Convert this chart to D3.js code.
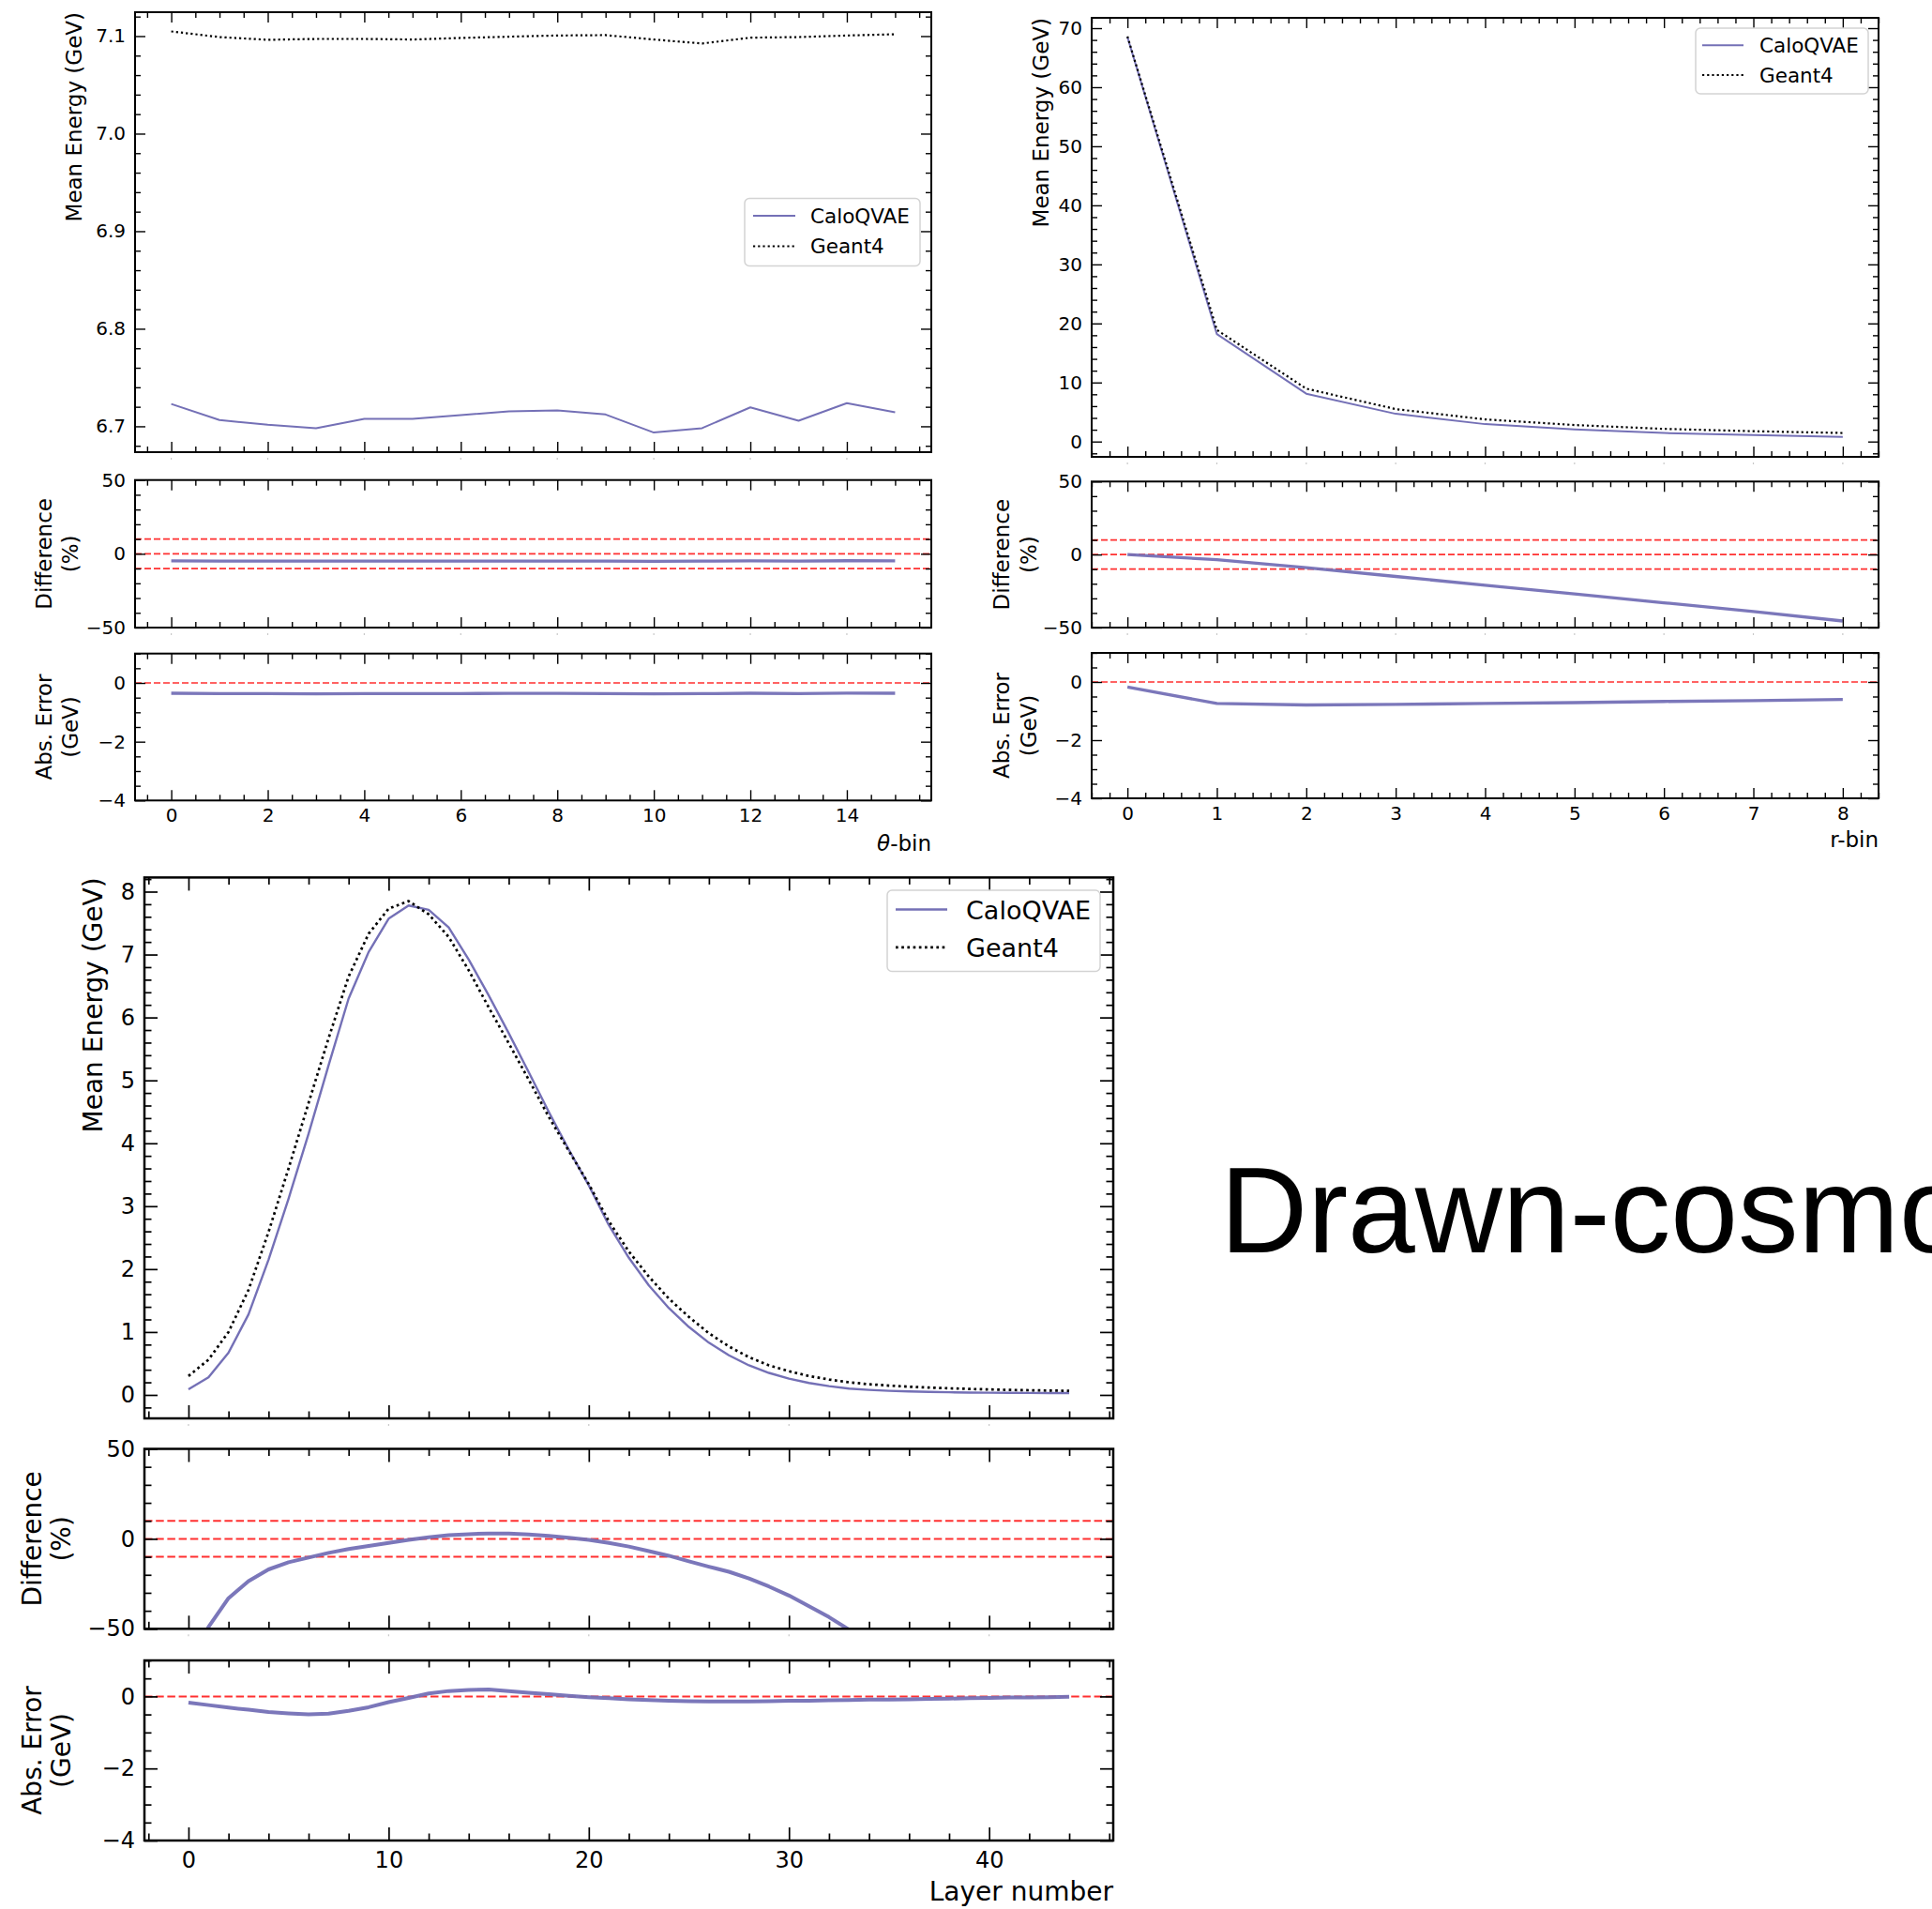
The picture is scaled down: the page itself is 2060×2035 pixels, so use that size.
<!DOCTYPE html>
<html><head><meta charset="utf-8">
<script src="https://cdn.jsdelivr.net/npm/d3@7"></script>
<style>body{margin:0;background:#fff}svg{display:block}</style>
</head><body>
<svg id="c" width="2060" height="2035"></svg>
<script>
// ---------------- DATA ----------------
const seriesNames = ["CaloQVAE", "Geant4"];

const thetaBins  = [0,1,2,3,4,5,6,7,8,9,10,11,12,13,14,15];
const thetaCalo  = [6.7229,6.7064,6.7016,6.6981,6.7076,6.7076,6.7114,6.7153,6.7162,6.7121,6.6936,6.6981,6.7194,6.7057,6.7238,6.7143];
const thetaGeant = [7.1048,7.0990,7.0962,7.0971,7.0971,7.0965,7.0981,7.0994,7.1006,7.1010,7.0965,7.0924,7.0984,7.0990,7.1006,7.1019];
const thetaDiff  = [-4.8,-4.9,-4.9,-5.0,-4.9,-4.9,-4.9,-4.9,-4.9,-4.9,-5.1,-5.0,-4.8,-4.9,-4.7,-4.8];
const thetaAbs   = [-0.35,-0.36,-0.36,-0.37,-0.36,-0.36,-0.36,-0.355,-0.355,-0.36,-0.37,-0.365,-0.35,-0.36,-0.345,-0.35];

const rBins  = [0,1,2,3,4,5,6,7,8];
const rCalo  = [68.5,18.2,8.1,4.7,2.95,2.05,1.45,1.1,0.8];
const rGeant = [68.6,18.9,8.95,5.5,3.75,2.8,2.15,1.75,1.45];
const rDiff  = [0,-3.5,-9,-15,-21,-27,-33,-39,-45.5];
const rAbs   = [-0.17,-0.74,-0.79,-0.77,-0.74,-0.71,-0.67,-0.64,-0.6];

const layers = [0,1,2,3,4,5,6,7,8,9,10,11,12,13,14,15,16,17,18,19,20,21,22,23,24,25,26,27,28,29,30,31,32,33,34,35,36,37,38,39,40,41,42,43,44];
const layerCalo  = [0.09,0.28,0.67,1.28,2.15,3.12,4.15,5.24,6.3,7.04,7.57,7.78,7.71,7.43,6.92,6.35,5.75,5.13,4.5,3.9,3.33,2.7,2.18,1.74,1.38,1.08,0.83,0.63,0.47,0.35,0.26,0.19,0.14,0.1,0.08,0.065,0.055,0.048,0.042,0.038,0.035,0.033,0.031,0.03,0.03];
const layerGeant = [0.3,0.56,1.0,1.67,2.59,3.6,4.64,5.67,6.65,7.33,7.73,7.85,7.64,7.28,6.75,6.16,5.59,5.01,4.42,3.88,3.35,2.76,2.28,1.88,1.53,1.24,0.98,0.77,0.6,0.47,0.377,0.3,0.245,0.2,0.17,0.148,0.13,0.117,0.105,0.095,0.087,0.08,0.074,0.069,0.065];
const layerDiff  = [-70,-49,-33,-23.5,-17,-13,-10.4,-7.8,-5.7,-4,-2.3,-0.6,0.9,2.0,2.6,3.0,2.9,2.4,1.7,0.6,-0.6,-2.3,-4.3,-6.8,-9.4,-12.5,-15.5,-18.3,-22,-26.5,-31.5,-37.5,-43.5,-50.5,-58,-62,-64,-65,-64,-63,-62,-61,-60,-58,-56];
const layerAbs   = [-0.17,-0.24,-0.31,-0.37,-0.43,-0.47,-0.5,-0.48,-0.4,-0.3,-0.16,-0.04,0.08,0.15,0.18,0.19,0.15,0.1,0.06,0.02,-0.02,-0.05,-0.08,-0.1,-0.12,-0.13,-0.14,-0.14,-0.14,-0.13,-0.12,-0.12,-0.11,-0.1,-0.09,-0.09,-0.08,-0.07,-0.06,-0.05,-0.04,-0.03,-0.03,-0.02,-0.01];

// tick labels
const thetaXTicks = [0,2,4,6,8,10,12,14];
const thetaYTicks = [6.7,6.8,6.9,7.0,7.1];
const rXTicks = [0,1,2,3,4,5,6,7,8];
const rYTicks = [0,10,20,30,40,50,60,70];
const layerXTicks = [0,10,20,30,40];
const layerYTicks = [0,1,2,3,4,5,6,7,8];
const diffYTicks = [-50,0,50];
const absYTicks = [-4,-2,0];
const diffRefLines = [10,0,-10];
const absRefLines = [0];

// ---------------- STYLE / LAYOUT ----------------
const FONT = "DejaVu Sans, Verdana, sans-serif";
const CALO_COLOR = "#7470b6";
const styleSmall = {tick:20, label:23, legend:21.5, maj:11, min:6, spine:2, tickW:1.4, padX:9, padY:10,
  lineW:2, errW:3.3, redW:1.7, redDash:"7,3", dotW:2.2, dotDash:"2.2,3"};
const styleBig = {tick:24, label:28, legend:27, maj:14, min:7.5, spine:2.5, tickW:1.7, padX:12, padY:10,
  lineW:2.4, errW:4, redW:2, redDash:"8.5,3.7", dotW:2.7, dotDash:"2.7,3.5"};

const svg = d3.select("#c");
let clipId = 0;

function minors(dom, step, majors) {
  const out = [];
  const lo = Math.min(dom[0], dom[1]), hi = Math.max(dom[0], dom[1]);
  const s = Math.ceil(lo / step - 1e-9), e = Math.floor(hi / step + 1e-9);
  for (let i = s; i <= e; i++) {
    const v = +(i * step).toFixed(6);
    if (!majors.some(m => Math.abs(m - v) < 1e-9)) out.push(v);
  }
  return out;
}

function styleAxis(g, st) {
  g.select(".domain").remove();
  g.selectAll(".tick line").attr("stroke", "#000").attr("stroke-width", st.tickW);
  g.selectAll(".tick text").attr("font-family", FONT).attr("font-size", st.tick).attr("fill", "#000");
}

function panel(p) {
  const st = p.st;
  const x = d3.scaleLinear().domain(p.xDom).range([p.x0, p.x1]);
  const y = d3.scaleLinear().domain(p.yDom).range([p.y1, p.y0]);
  const g = svg.append("g");
  const id = "clip" + (clipId++);
  g.append("clipPath").attr("id", id).append("rect")
    .attr("x", p.x0).attr("y", p.y0).attr("width", p.x1 - p.x0).attr("height", p.y1 - p.y0);
  const content = g.append("g").attr("clip-path", `url(#${id})`);

  (p.refs || []).forEach(v => {
    content.append("line").attr("x1", p.x0).attr("x2", p.x1).attr("y1", y(v)).attr("y2", y(v))
      .attr("stroke", "#ff1a1a").attr("stroke-opacity", 0.9).attr("stroke-width", st.redW)
      .attr("stroke-dasharray", st.redDash);
  });
  p.series.forEach(s => {
    const line = d3.line().x(d => x(d[0])).y(d => y(d[1]));
    content.append("path").datum(d3.zip(s.xs, s.ys)).attr("d", line)
      .attr("fill", "none").attr("stroke", s.color).attr("stroke-width", s.w)
      .attr("stroke-dasharray", s.dash || null).attr("stroke-opacity", s.opacity || 1)
      .attr("stroke-linejoin", "round");
  });

  const xMin = minors(p.xDom, p.xMinor, p.xTicks);
  const yMin = minors(p.yDom, p.yMinor, p.yTicks);
  const fx = p.showX ? p.xFmt : () => "";

  styleAxis(g.append("g").attr("transform", `translate(0,${p.y1})`)
    .call(d3.axisBottom(x).tickValues(p.xTicks).tickSize(-st.maj).tickPadding(st.padX).tickFormat(fx)), st);
  styleAxis(g.append("g").attr("transform", `translate(0,${p.y0})`)
    .call(d3.axisTop(x).tickValues(p.xTicks).tickSize(-st.maj).tickFormat(() => "")), st);
  styleAxis(g.append("g").attr("transform", `translate(${p.x0},0)`)
    .call(d3.axisLeft(y).tickValues(p.yTicks).tickSize(-st.maj).tickPadding(st.padY).tickFormat(p.yFmt)), st);
  styleAxis(g.append("g").attr("transform", `translate(${p.x1},0)`)
    .call(d3.axisRight(y).tickValues(p.yTicks).tickSize(-st.maj).tickFormat(() => "")), st);
  styleAxis(g.append("g").attr("transform", `translate(0,${p.y1})`)
    .call(d3.axisBottom(x).tickValues(xMin).tickSize(-st.min).tickFormat(() => "")), st);
  styleAxis(g.append("g").attr("transform", `translate(0,${p.y0})`)
    .call(d3.axisTop(x).tickValues(xMin).tickSize(-st.min).tickFormat(() => "")), st);
  styleAxis(g.append("g").attr("transform", `translate(${p.x0},0)`)
    .call(d3.axisLeft(y).tickValues(yMin).tickSize(-st.min).tickFormat(() => "")), st);
  styleAxis(g.append("g").attr("transform", `translate(${p.x1},0)`)
    .call(d3.axisRight(y).tickValues(yMin).tickSize(-st.min).tickFormat(() => "")), st);

  if (!p.showX) {
    g.append("g").selectAll("line").data(p.xTicks).join("line")
      .attr("x1", d => x(d)).attr("x2", d => x(d)).attr("y1", p.y1 + 6).attr("y2", p.y1 + 8)
      .attr("stroke", "#c8c8c8").attr("stroke-width", 1.2);
  }

  g.append("rect").attr("x", p.x0).attr("y", p.y0).attr("width", p.x1 - p.x0).attr("height", p.y1 - p.y0)
    .attr("fill", "none").attr("stroke", "#000").attr("stroke-width", st.spine);
  return {x, y, g};
}

function vLabel(lines, xBaselines, yCenter, size, anchor) {
  lines.forEach((t, i) => {
    svg.append("text")
      .attr("transform", `translate(${xBaselines[i]},${yCenter}) rotate(-90)`)
      .attr("text-anchor", anchor || "middle")
      .attr("font-family", FONT).attr("font-size", size).attr("fill", "#000")
      .text(t);
  });
}

function legend(L, st) {
  svg.append("rect").attr("x", L.x0).attr("y", L.y0).attr("width", L.x1 - L.x0).attr("height", L.y1 - L.y0)
    .attr("rx", 5).attr("fill", "#fff").attr("fill-opacity", 0.8)
    .attr("stroke", "#d3d3d3").attr("stroke-width", 1.5);
  const styles = [
    {color: CALO_COLOR, w: st.lineW, dash: null},
    {color: "#000", w: st.dotW, dash: st.dotDash}
  ];
  seriesNames.forEach((name, i) => {
    svg.append("line").attr("x1", L.sx0).attr("x2", L.sx1).attr("y1", L.sy[i]).attr("y2", L.sy[i])
      .attr("stroke", styles[i].color).attr("stroke-width", styles[i].w)
      .attr("stroke-dasharray", styles[i].dash);
    svg.append("text").attr("x", L.tx).attr("y", L.ty[i])
      .attr("font-family", FONT).attr("font-size", st.legend).attr("fill", "#000").text(name);
  });
}

function drawGroup(G) {
  const st = G.st;
  const common = {st, x0: G.x0, x1: G.x1, xDom: G.xDom, xTicks: G.xTicks, xMinor: G.xMinor, xFmt: d3.format("d")};
  panel(Object.assign({}, common, {
    y0: G.main[0], y1: G.main[1], yDom: G.mainDom, yTicks: G.mainTicks, yMinor: G.mainMinor,
    yFmt: G.mainFmt, showX: false,
    series: [
      {xs: G.xs, ys: G.calo, color: CALO_COLOR, w: st.lineW},
      {xs: G.xs, ys: G.geant, color: "#000", w: st.dotW, dash: st.dotDash}
    ]
  }));
  panel(Object.assign({}, common, {
    y0: G.diff[0], y1: G.diff[1], yDom: [-50, 50], yTicks: diffYTicks, yMinor: 10,
    yFmt: d3.format("d"), showX: false, refs: diffRefLines,
    series: [{xs: G.xs, ys: G.diffVals, color: CALO_COLOR, w: st.errW, opacity: 0.95}]
  }));
  panel(Object.assign({}, common, {
    y0: G.abs[0], y1: G.abs[1], yDom: [-4, 1], yTicks: absYTicks, yMinor: 0.5,
    yFmt: d3.format("d"), showX: true, refs: absRefLines,
    series: [{xs: G.xs, ys: G.absVals, color: CALO_COLOR, w: st.errW, opacity: 0.95}]
  }));
  vLabel(["Mean Energy (GeV)"], [G.mainLabelX], G.main[0], st.label, "end");
  vLabel(["Difference", "(%)"], G.errLabelX, (G.diff[0] + G.diff[1]) / 2, st.label);
  vLabel(["Abs. Error", "(GeV)"], G.errLabelX, (G.abs[0] + G.abs[1]) / 2, st.label);
  const xl = svg.append("text").attr("x", G.x1).attr("y", G.xLabelY).attr("text-anchor", "end")
    .attr("font-family", FONT).attr("font-size", st.label).attr("fill", "#000");
  G.xLabel.forEach(part => xl.append("tspan").attr("font-style", part.italic ? "italic" : null).text(part.t));
  legend(G.legend, st);
}

// theta panel (top-left)
drawGroup({
  st: styleSmall, x0: 144, x1: 993, xDom: [-0.75, 15.75], xTicks: thetaXTicks, xMinor: 0.5,
  main: [13, 482], diff: [511.7, 669], abs: [696.7, 853.3],
  mainDom: [6.6735, 7.1245], mainTicks: thetaYTicks, mainMinor: 0.02, mainFmt: d3.format(".1f"),
  xs: thetaBins, calo: thetaCalo, geant: thetaGeant, diffVals: thetaDiff, absVals: thetaAbs,
  mainLabelX: 87, errLabelX: [55, 83], xLabelY: 907,
  xLabel: [{t: "θ", italic: true}, {t: "-bin"}],
  legend: {x0: 794, x1: 981, y0: 211.5, y1: 283.5, sx0: 803, sx1: 848, sy: [230, 262.5], tx: 864, ty: [237.5, 270]}
});

// r panel (top-right)
drawGroup({
  st: styleSmall, x0: 1164, x1: 2003, xDom: [-0.4, 8.4], xTicks: rXTicks, xMinor: 0.2,
  main: [19, 487], diff: [513.3, 669], abs: [696, 851],
  mainDom: [-2.59, 71.75], mainTicks: rYTicks, mainMinor: 2, mainFmt: d3.format("d"),
  xs: rBins, calo: rCalo, geant: rGeant, diffVals: rDiff, absVals: rAbs,
  mainLabelX: 1118, errLabelX: [1076, 1105], xLabelY: 903,
  xLabel: [{t: "r-bin"}],
  legend: {x0: 1808, x1: 1992, y0: 30, y1: 100, sx0: 1815, sx1: 1859, sy: [48.3, 80], tx: 1876, ty: [55.5, 87.5]}
});

// layer panel (bottom)
drawGroup({
  st: styleBig, x0: 154, x1: 1187, xDom: [-2.2, 46.2], xTicks: layerXTicks, xMinor: 2,
  main: [935.4, 1512], diff: [1544.5, 1736.3], abs: [1770, 1962],
  mainDom: [-0.373, 8.225], mainTicks: layerYTicks, mainMinor: 0.2, mainFmt: d3.format("d"),
  xs: layers, calo: layerCalo, geant: layerGeant, diffVals: layerDiff, absVals: layerAbs,
  mainLabelX: 109, errLabelX: [43.5, 75], xLabelY: 2026,
  xLabel: [{t: "Layer number"}],
  legend: {x0: 946, x1: 1173, y0: 949, y1: 1035.5, sx0: 955, sx1: 1010, sy: [969.5, 1009.8], tx: 1030, ty: [980, 1019.5]}
});

// side text (extends past the right edge, as in the source image)
svg.append("text").attr("x", 1301).attr("y", 1335)
  .attr("font-family", "Liberation Sans, Arial, Helvetica, sans-serif").attr("font-size", 129)
  .attr("fill", "#000").text("Drawn-cosmo");
</script>
</body></html>
